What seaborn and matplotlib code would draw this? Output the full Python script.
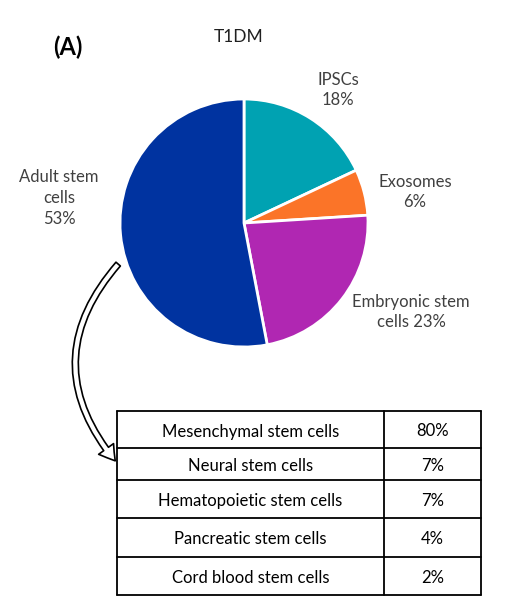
import matplotlib
matplotlib.use("Agg")
import matplotlib.pyplot as plt
import seaborn as sns
from matplotlib.patches import FancyArrowPatch

# pie data
pie_labels = ["IPSCs\n18%", "Exosomes\n6%", "Embryonic stem\ncells 23%", "Adult stem\ncells\n53%"]
pie_values = [18, 6, 23, 53]
pie_colors = ["#00A2B2", "#FB7428", "#B027B2", "#0033A0"]

# table data
table_names = ["Mesenchymal stem cells", "Neural stem cells", "Hematopoietic stem cells",
               "Pancreatic stem cells", "Cord blood stem cells"]
table_values = ["80%", "7%", "7%", "4%", "2%"]

sns.set_theme(style="white")
plt.rcParams["font.family"] = ["Lato", "DejaVu Sans"]

W, H = 506, 611
fig = plt.figure(figsize=(W / 100, H / 100), dpi=100)
ax = fig.add_axes([0, 0, 1, 1])

def Y(y):
    return H - y

wedges, texts = ax.pie(pie_values, colors=pie_colors, startangle=90, counterclock=False,
                       center=(244, Y(223)), radius=124,
                       wedgeprops=dict(edgecolor="white", linewidth=2))

ax.set_xlim(0, W)
ax.set_ylim(0, H)
ax.set_aspect("equal")
ax.axis("off")

txt = dict(color="#404040", fontsize=12, ha="center", va="center", linespacing=1.35)
ax.text(338, Y(90), pie_labels[0], **txt)
ax.text(415, Y(192), pie_labels[1], **txt)
ax.text(411, Y(312), pie_labels[2], **txt)
ax.text(59, Y(198), pie_labels[3], **txt)

ax.text(239, Y(37), "T1DM", color="#202020", fontsize=12.5, ha="center", va="center")
ax.text(68, Y(47), "(A)", color="black", fontsize=17, fontweight="bold", ha="center", va="center")

# curved arrow from pie to table
arrow = FancyArrowPatch((120, Y(262)), (117, Y(463)),
                        connectionstyle="arc3,rad=0.43",
                        arrowstyle="simple,head_length=0.9,head_width=1.1,tail_width=0.35",
                        mutation_scale=12, facecolor="white", edgecolor="black", linewidth=1.2)
ax.add_patch(arrow)

# table
x0, x1, xc = 117, 481, 384
rows_y = [411, 448, 480, 518, 557, 595]
for y in rows_y:
    ax.plot([x0, x1], [Y(y), Y(y)], color="black", lw=1.3)
for x in [x0, xc, x1]:
    ax.plot([x, x], [Y(rows_y[0]), Y(rows_y[-1])], color="black", lw=1.3)
for i, (name, val) in enumerate(zip(table_names, table_values)):
    ym = (rows_y[i] + rows_y[i + 1]) / 2 + 2
    ax.text((x0 + xc) / 2, Y(ym), name, color="black", fontsize=12, ha="center", va="center")
    ax.text((xc + x1) / 2, Y(ym), val, color="black", fontsize=12, ha="center", va="center")

fig.savefig("out.png", dpi=100)
